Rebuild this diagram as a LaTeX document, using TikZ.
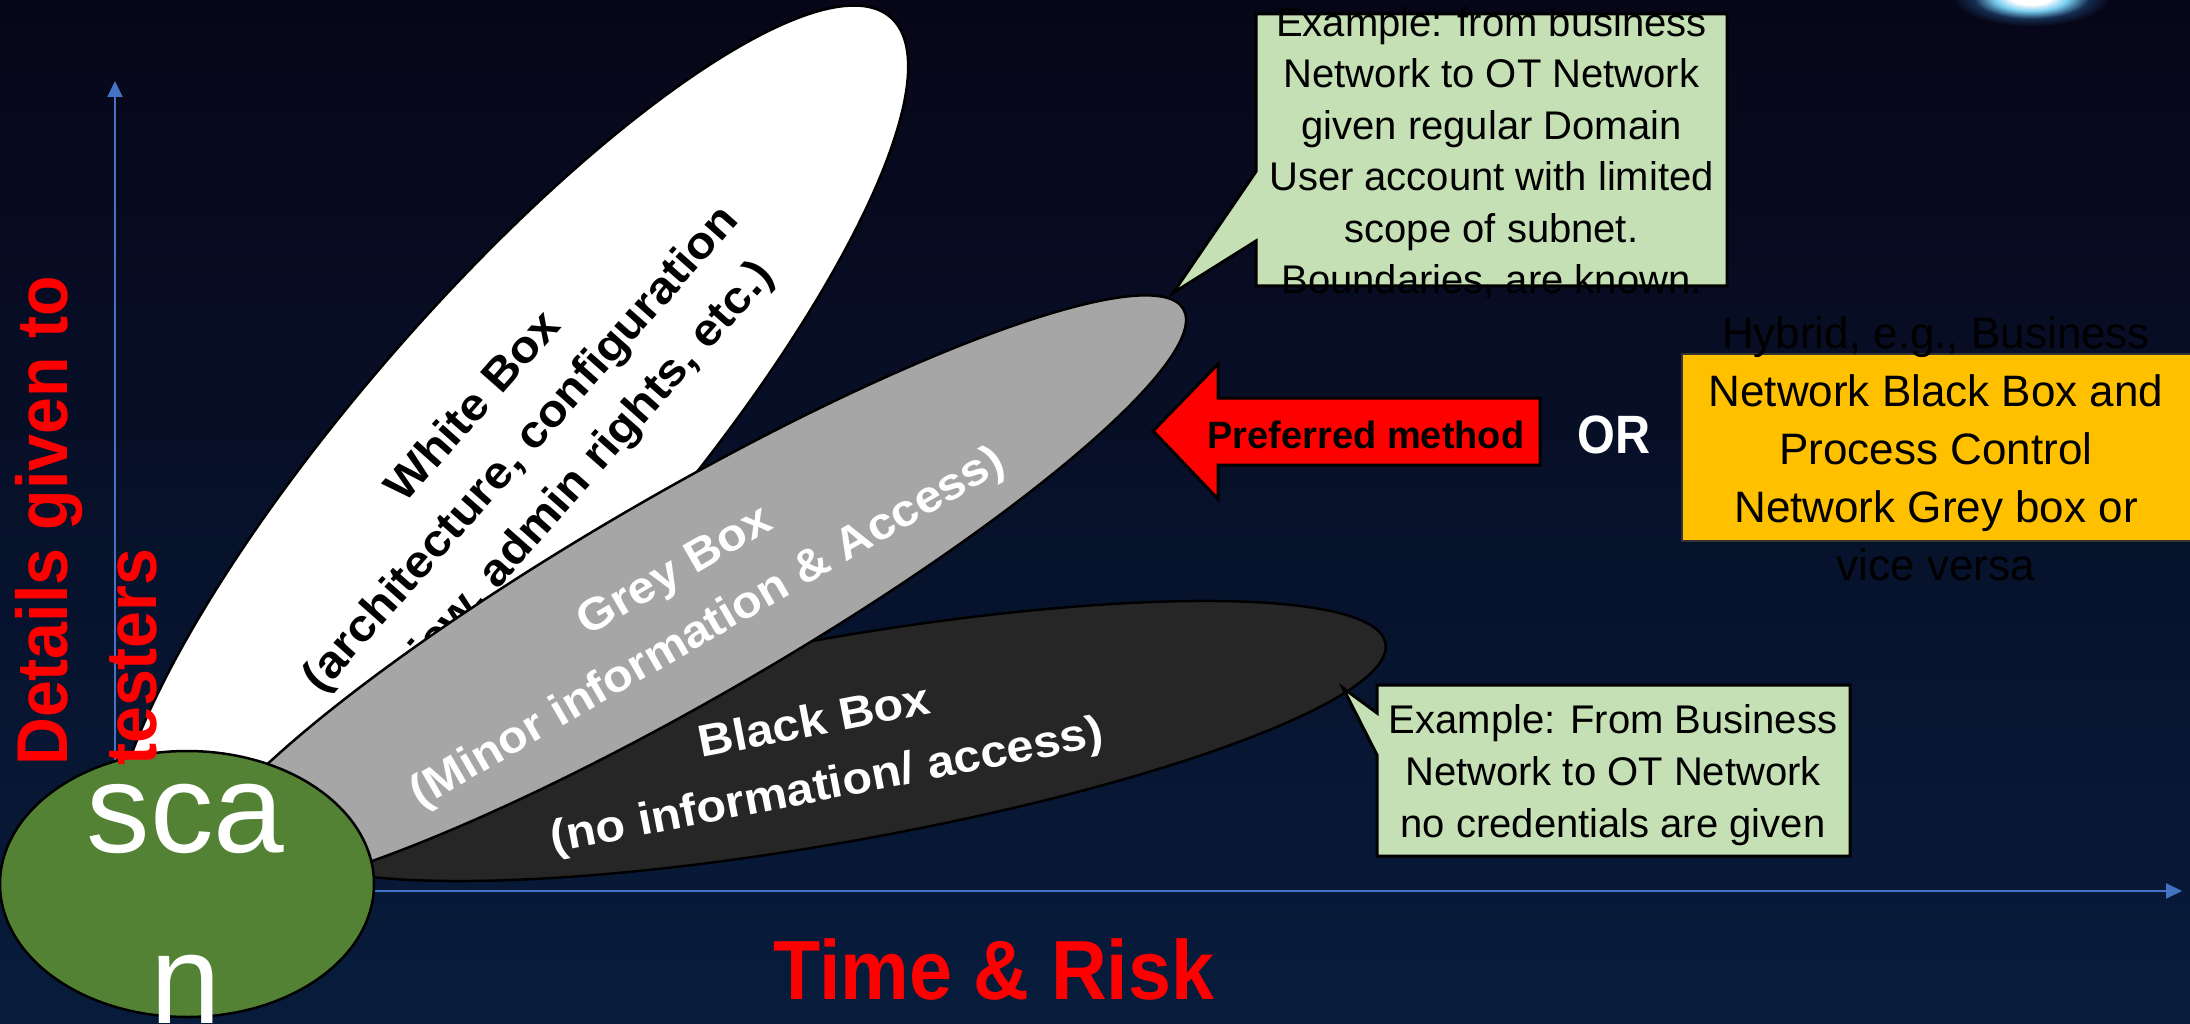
\documentclass[tikz,border=0pt]{standalone}
\usepackage{fontspec}
\setmainfont{Liberation Sans}
\newfontfamily\axisfont[FakeStretch=0.92]{Liberation Sans}
\newfontfamily\widefont[FakeStretch=1.08]{Liberation Sans}
\newfontfamily\condfont[FakeStretch=0.9]{Liberation Sans}
\usetikzlibrary{shapes.geometric, arrows.meta}

\definecolor{bgtop}{RGB}{7,6,24}
\definecolor{bgbot}{RGB}{7,28,60}
\definecolor{axisblue}{RGB}{68,114,196}
\definecolor{greyfill}{RGB}{166,166,166}
\definecolor{blackfill}{RGB}{38,38,38}
\definecolor{scangreen}{RGB}{84,130,53}
\definecolor{calloutgreen}{RGB}{197,224,180}
\definecolor{hybridyellow}{RGB}{255,192,0}
\definecolor{pptred}{RGB}{255,0,0}
\definecolor{glowcyan}{RGB}{120,205,240}
\definecolor{glowhalo}{RGB}{20,45,80}

\pgfdeclareradialshading{glowshade}{\pgfpoint{0bp}{0bp}}{%
  color(0bp)=(white); color(6bp)=(white); color(11bp)=(glowcyan);
  color(17bp)=(glowhalo); color(23bp)=(bgtop); color(50bp)=(bgtop)}

\begin{document}
\begin{tikzpicture}[x=1pt, y=-1pt,
  lobe/.style={ellipse, draw=black, line width=2.5pt, inner sep=0pt},
  lobetext/.style={align=center, inner sep=0pt, font=\widefont\bfseries\fontsize{45}{#1}\selectfont},
  axisline/.style={draw=axisblue, line width=2pt, -{Triangle[length=16pt, width=15pt]}},
  calloutshape/.style={fill=calloutgreen, draw=black, line width=3pt},
  callouttext/.style={align=center, inner sep=0pt, anchor=north, text=black},
  redlabel/.style={text=pptred, inner sep=0pt}
]
\clip (0,0) rectangle (2190,1024);
% background
\shade[top color=bgtop, bottom color=bgbot] (0,0) rectangle (2190,1024);
\shade[shading=glowshade] (2031,-3) ellipse [x radius=85pt, y radius=32pt];

% axes
\coordinate (origin) at (115,891);
\coordinate (ytip) at (115,81);
\coordinate (xtip) at (2182,891);
\draw[axisline] (origin) -- (ytip);
\draw[axisline] (origin) -- (xtip);

% white lobe
\node[lobe, fill=white, minimum width=1160pt, minimum height=310pt, rotate=49] (whitelobe) at (510,455) {};
\node[lobetext=63, text=black, rotate=48.5] (whitetext) at (522,450)
  {White Box\\(architecture, configuration\\review, admin rights, etc.)};

% black lobe
\node[lobe, fill=blackfill, minimum width=1124pt, minimum height=204pt, rotate=10] (blacklobe) at (832,741) {};
\node[lobetext=65, text=white, rotate=11] (blacktext) at (821,756)
  {Black Box\\(no information/ access)};

% grey lobe
\node[lobe, fill=greyfill, minimum width=1144pt, minimum height=206pt, rotate=30] (greylobe) at (688,595) {};
\node[lobetext=65, text=white, rotate=30] (greytext) at (692,601)
  {Grey Box\\(Minor information \& Access)};

% scan
\node[lobe, fill=scangreen, minimum width=374pt, minimum height=266pt] (scan) at (187,884) {};
\node[anchor=north, align=center, inner sep=0pt, text=white, font=\fontsize{127}{171}\selectfont] (scantext) at (185.5,752)
  {\rule{0pt}{100pt}sca\\n};

% axis labels
\node[redlabel, rotate=90, anchor=north west, align=left, font=\axisfont\bfseries\fontsize{72}{89}\selectfont] (ylabel) at (12,766)
  {\rule{0pt}{55pt}Details given to\\testers};
\node[redlabel, anchor=base, font=\axisfont\bfseries\fontsize{84}{100}\selectfont] (xlabel) at (994,999) {Time \& Risk};

% top callout
\coordinate (greypoint) at (1173,293);
\filldraw[calloutshape] (1256,14) -- (1727,14) -- (1727,286) -- (1256,286) -- (1256,241) -- (greypoint) -- (1256,171.5) -- cycle;
\node[callouttext, font=\fontsize{40}{51.5}\selectfont] (greynote) at (1491.5,6)
  {\rule{0pt}{30pt}Example: from business\\Network to OT Network\\given regular Domain\\User account with limited\\scope of subnet.\\Boundaries, are known.};

% bottom callout
\coordinate (blackpoint) at (1343,688);
\filldraw[calloutshape] (1377,685) -- (1850,685) -- (1850,856) -- (1377,856) -- (1377,755) -- (blackpoint) -- (1377,713) -- cycle;
\node[callouttext, font=\fontsize{40}{52}\selectfont] (blacknote) at (1613,703)
  {\rule{0pt}{30pt}Example: From Business\\Network to OT Network\\no credentials are given};

% preferred arrow
\filldraw[fill=pptred, draw=black, line width=3pt] (1153,431) -- (1218,364) -- (1218,398) -- (1540,398) -- (1540,465) -- (1218,465) -- (1218,499) -- cycle;
\node[anchor=base, inner sep=0pt, font=\bfseries\fontsize{38}{44}\selectfont] (preferred) at (1366,448) {Preferred method};

% OR
\node[anchor=base, inner sep=0pt, text=white, font=\condfont\bfseries\fontsize{54}{60}\selectfont] (ortext) at (1614,453.5) {OR};

% hybrid box
\filldraw[fill=hybridyellow, draw=black!80, line width=2pt] (1682,354) rectangle (2200,541);
\node[callouttext, font=\fontsize{44}{58}\selectfont] (hybrid) at (1936,315)
  {\rule{0pt}{33pt}Hybrid, e.g., Business\\Network Black Box and\\Process Control\\Network Grey box or\\vice versa};
\end{tikzpicture}
\end{document}
